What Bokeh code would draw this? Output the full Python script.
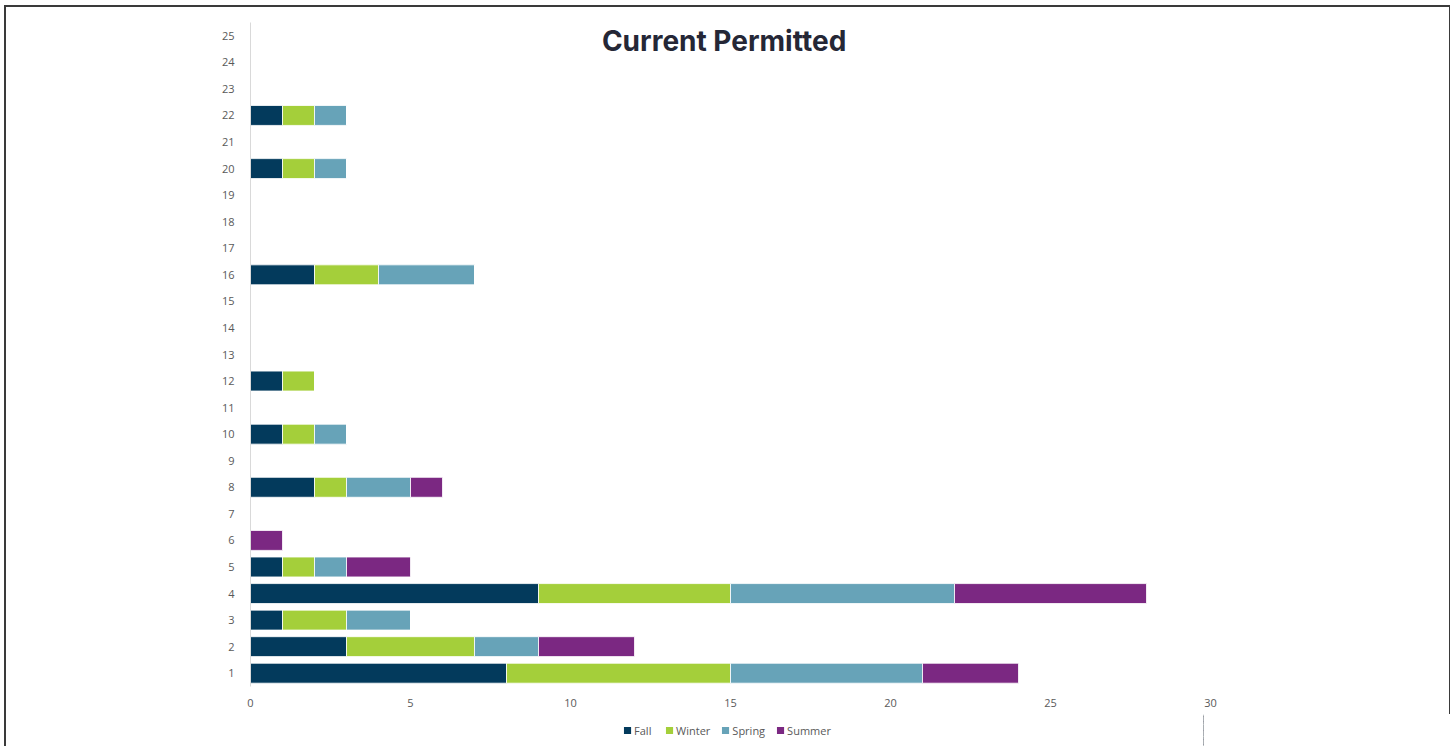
from bokeh.plotting import figure
from bokeh.layouts import column
from bokeh.models import Label, Legend, LegendItem, FixedTicker, Range1d
from bokeh.embed import file_html
from bokeh.resources import INLINE

categories = list(range(1, 26))
fall   = [8, 3, 1, 9, 1, 0, 0, 2, 0, 1, 0, 1, 0, 0, 0, 2, 0, 0, 0, 1, 0, 1, 0, 0, 0]
winter = [7, 4, 2, 6, 1, 0, 0, 1, 0, 1, 0, 1, 0, 0, 0, 2, 0, 0, 0, 1, 0, 1, 0, 0, 0]
spring = [6, 2, 2, 7, 1, 0, 0, 2, 0, 1, 0, 0, 0, 0, 0, 3, 0, 0, 0, 1, 0, 1, 0, 0, 0]
summer = [3, 3, 0, 6, 2, 1, 0, 1, 0, 0, 0, 0, 0, 0, 0, 0, 0, 0, 0, 0, 0, 0, 0, 0, 0]
series = ["Fall", "Winter", "Spring", "Summer"]
colors = ["#033a5c", "#a4cf3a", "#67a3b8", "#7b2882"]
x_ticks = [0, 5, 10, 15, 20, 25, 30]

data = dict(cat=categories, Fall=fall, Winter=winter, Spring=spring, Summer=summer)

BORDER = "2px solid #3a3a3a"

p = figure(output_backend="svg", toolbar_location=None,
           x_range=Range1d(0, 30), y_range=Range1d(0.5, 25.5),
           frame_width=956, frame_height=662,
           min_border_left=244, min_border_right=243, min_border_top=15, min_border_bottom=30)
p.styles = {"border-top": BORDER, "border-left": BORDER, "border-right": BORDER}

p.hbar_stack(series, y="cat", height=0.75, color=colors, source=data,
             line_color="white", line_width=0.8)

p.outline_line_color = None
p.xgrid.grid_line_color = None
p.ygrid.grid_line_color = None

p.xaxis.ticker = FixedTicker(ticks=x_ticks)
p.yaxis.ticker = FixedTicker(ticks=categories)
for ax in (p.xaxis, p.yaxis):
    ax.major_tick_line_color = None
    ax.minor_tick_line_color = None
    ax.major_label_text_font = "Open Sans"
    ax.major_label_text_font_size = "11px"
    ax.major_label_text_color = "#595959"
p.xaxis.axis_line_color = None
p.yaxis.axis_line_color = "#d9d9d9"
p.yaxis.major_label_standoff = 10
p.xaxis.major_label_standoff = 6

title = Label(x=14.8, y=24.81, text="Current Permitted", text_font="Inter",
              text_font_style="bold", text_font_size="28px", text_color="#252736",
              text_align="center", text_baseline="middle")
p.add_layout(title)

# legend strip below the chart (its bars lie outside its visible range)
lg = figure(width=1440, height=32, output_backend="svg", toolbar_location=None,
            x_axis_type=None, y_axis_type=None, min_border=0,
            x_range=Range1d(-20, -10), y_range=Range1d(0.5, 25.5))
lg.styles = {"border-left": BORDER}
lg.outline_line_color = None
lg.xgrid.grid_line_color = None
lg.ygrid.grid_line_color = None
legend_renderers = lg.hbar_stack(series, y="cat", height=0.75, color=colors, source=data,
                                 line_color=None)
legend = Legend(items=[LegendItem(label=s, renderers=[r]) for s, r in zip(series, legend_renderers)],
                orientation="horizontal", location="center",
                glyph_width=9, glyph_height=9, label_standoff=3, spacing=10,
                label_text_font="Open Sans", label_text_font_size="11px",
                label_text_color="#595959", border_line_color=None,
                background_fill_alpha=0, padding=0, margin=0, label_height=12)
lg.add_layout(legend)

layout = column(p, lg, spacing=0)
layout.styles = {"margin-left": "4px", "margin-top": "5px"}

open("out.html", "w").write(file_html(layout, INLINE))
